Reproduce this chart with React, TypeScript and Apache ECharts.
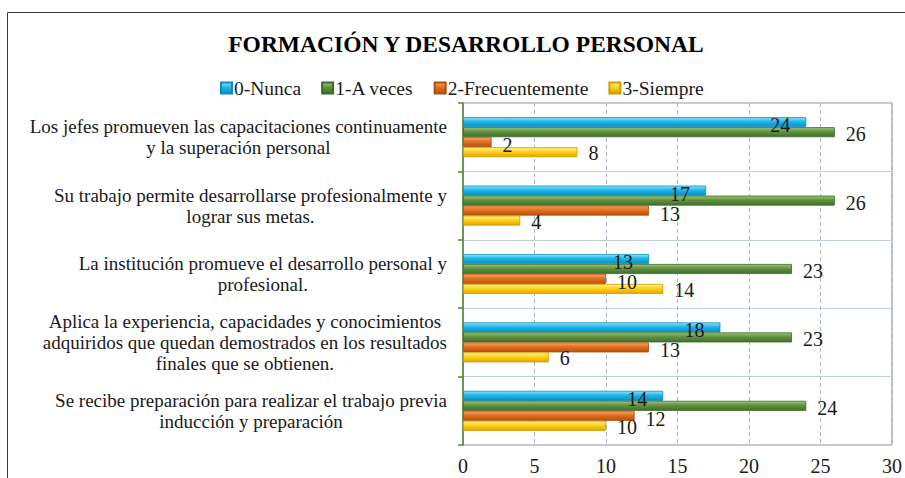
import React, { useEffect, useRef } from "react";
import * as echarts from "echarts";

const categories = [
  "Los jefes promueven las capacitaciones continuamente\ny la superación personal",
  "Su trabajo permite desarrollarse profesionalmente y\nlograr sus metas.",
  "La institución promueve el desarrollo personal y\nprofesional.",
  "Aplica la experiencia, capacidades y conocimientos\nadquiridos que quedan demostrados en los resultados\nfinales que se obtienen.",
  "Se recibe preparación para realizar el trabajo previa\ninducción y preparación",
];
const seriesNames = ["0-Nunca", "1-A veces", "2-Frecuentemente", "3-Siempre"];
const nunca = [24, 17, 13, 18, 14];
const aVeces = [26, 26, 23, 23, 24];
const frecuentemente = [2, 13, 10, 13, 12];
const siempre = [8, 4, 14, 6, 10];
const xMin = 0;
const xMax = 30;
const xInterval = 5;

const FONT = "Liberation Serif";

const grad = (a: string, b: string, c: string) =>
  new echarts.graphic.LinearGradient(0, 0, 0, 1, [
    { offset: 0, color: a },
    { offset: 0.45, color: b },
    { offset: 1, color: c },
  ]);

export default function App() {
  const ref = useRef<HTMLDivElement>(null);
  useEffect(() => {
    if (!ref.current) return;
    const chart = echarts.init(ref.current, undefined, { renderer: "svg" });
    const labelBase = {
      show: true,
      fontFamily: FONT,
      fontSize: 20,
      color: "#1a1a1a",
    };
    const styles = [
      { fill: grad("#8fe3fa", "#1cb6e8", "#0a8fc2"), border: "#0b8cbd", label: { ...labelBase, position: "insideRight", distance: 16, offset: [0, 3] } },
      { fill: grad("#9cc777", "#5f9140", "#41702a"), border: "#3d6a26", label: { ...labelBase, position: "right", distance: 11, offset: [0, 2] } },
      { fill: grad("#f7a866", "#e46d1d", "#b4520f"), border: "#a9500f", label: { ...labelBase, position: "right", distance: 11, offset: [0, 3] } },
      { fill: grad("#fff389", "#ffd21a", "#e0a400"), border: "#d19a00", label: { ...labelBase, position: "right", distance: 11, offset: [0, 1] } },
    ];
    const data = [nunca, aVeces, frecuentemente, siempre];
    chart.setOption({
      animation: false,
      backgroundColor: "#ffffff",
      textStyle: { fontFamily: FONT },
      graphic: [
        {
          type: "rect",
          z: -10,
          shape: { x: 7.5, y: 12.5, width: 1000, height: 1000 },
          style: { fill: "none", stroke: "#3a3a3a", lineWidth: 1 },
        },
      ],
      title: {
        text: "FORMACIÓN Y DESARROLLO PERSONAL",
        left: 461,
        textAlign: "center",
        top: 27,
        textStyle: { fontFamily: FONT, fontSize: 23.5, fontWeight: "bold", color: "#000" },
      },
      legend: {
        top: 73,
        left: 215,
        icon: "rect",
        itemWidth: 11,
        itemHeight: 11,
        itemGap: 20,
        textStyle: { fontFamily: FONT, fontSize: 19.5, color: "#1a1a1a", padding: [0, 0, 0, -3] },
        data: seriesNames,
      },
      grid: {
        left: 463,
        right: 13,
        top: 103,
        bottom: 33,
        show: true,
        borderColor: "#8c8c8c",
        borderWidth: 1,
      },
      xAxis: {
        type: "value",
        min: xMin,
        max: xMax,
        interval: xInterval,
        axisLine: { show: false },
        axisTick: { show: false },
        axisLabel: { fontFamily: FONT, fontSize: 20, color: "#1a1a1a", margin: 11 },
        splitLine: { show: true, lineStyle: { color: "#a9b6cc", type: [4, 3], width: 1 } },
      },
      yAxis: {
        type: "category",
        inverse: true,
        data: categories,
        axisLine: { show: true, lineStyle: { color: "#4f8a2f", width: 1.5 } },
        axisTick: { show: true, inside: false, length: 5, lineStyle: { color: "#4f8a2f", width: 1.5 } },
        splitLine: { show: true, lineStyle: { color: "#c3cde0", width: 1 } },
        axisLabel: {
          align: "right",
          margin: 16,
          fontFamily: FONT,
          formatter: (v: string) => v.split("\n").map((l) => `{c|${l}}`).join("\n"),
          rich: {
            c: { align: "center", fontFamily: FONT, fontSize: 19, lineHeight: 21, color: "#1a1a1a" },
          },
        },
      },
      series: seriesNames.map((name, i) => ({
        name,
        type: "bar",
        data: data[i],
        barWidth: 10,
        barGap: "0%",
        itemStyle: { color: styles[i].fill, borderColor: styles[i].border, borderWidth: 0.8 },
        label: styles[i].label,
      })),
    });
    return () => chart.dispose();
  }, []);
  return (
    <div
      ref={ref}
      style={{ position: "absolute", left: 0, top: 0, width: 905, height: 478 }}
    />
  );
}
